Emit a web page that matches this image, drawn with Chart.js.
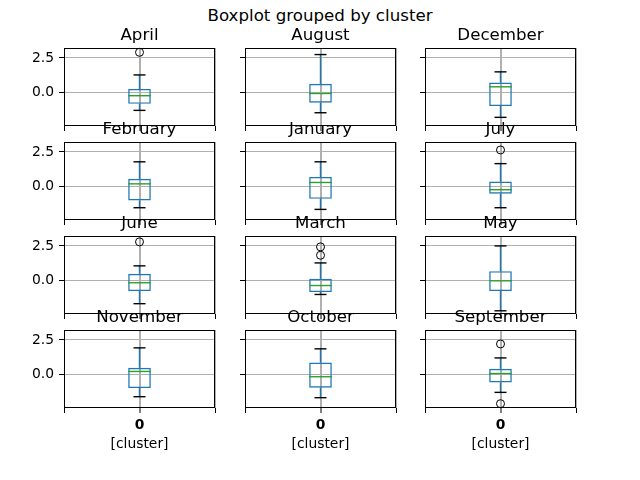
<!DOCTYPE html>
<html>
<head>
<meta charset="utf-8">
<script src="https://cdn.jsdelivr.net/npm/chart.js@4.4.0/dist/chart.umd.min.js"></script>
<style>
html, body { margin: 0; padding: 0; background: #fff; }
body { width: 640px; height: 480px; position: relative; overflow: hidden; font-family: 'DejaVu Sans', sans-serif; }
#sup { position: absolute; left: 0; top: 6px; width: 640px; text-align: center; font-size: 16.67px; line-height: 20px; color: #000; }
canvas { position: absolute; }
</style>
</head>
<body>
<div id="sup"></div>
<script>
// ---------------- data ----------------
const suptitle = 'Boxplot grouped by cluster';
const months = ['April', 'August', 'December', 'February', 'January', 'July',
                'June', 'March', 'May', 'November', 'October', 'September'];
const categories = ['0'];
const xLabel = '[cluster]';
const yTicks = [2.5, 0.0];
const whiskerLow  = [-1.26, -1.43, -1.76, -1.50, -1.62, -1.50, -1.64, -0.98, -2.15, -1.57, -1.64, -1.26];
const q1          = [-0.79, -0.71, -0.95, -0.98, -0.86, -0.50, -0.74, -0.81, -0.74, -0.95, -0.93, -0.55];
const medians     = [-0.21, -0.05,  0.43,  0.21,  0.31, -0.21, -0.14, -0.34,  0.00,  0.24, -0.14,  0.09];
const q3          = [ 0.28,  0.64,  0.73,  0.57,  0.71,  0.38,  0.50,  0.14,  0.69,  0.50,  0.88,  0.43];
const whiskerHigh = [ 1.28,  2.74,  1.50,  1.79,  1.79,  1.66,  1.07,  1.28,  2.50,  1.93,  1.86,  1.21];
const outliers    = [[2.90], [], [], [], [], [2.64], [2.79], [2.43, 1.83], [], [], [], [2.21, -2.07]];

// ---------------- layout / style ----------------
const Y_MIN = -2.38, Y_MAX = 3.21;
const NCOLS = 3;
const AX_LEFT = [64, 245, 425];
const AX_TOP = [48, 142, 236, 330];
const AX_W = 151, AX_H = 78;
const SIDE = 50, TITLE_H = 30;
const FONT = "'DejaVu Sans', sans-serif";
const C_BOX = '#1f77b4', C_MED = '#2ca02c';
// x ticks sit at the category centre and at both axis edges, so the bar ruler
// spacing is half a category: 0.30 of it equals 0.15 of the axis width.
const BOX_FRACTION = 0.30;

document.getElementById('sup').textContent = suptitle;
Chart.defaults.font.family = FONT;
Chart.defaults.color = '#000';

const framePlugin = {
  id: 'frame',
  afterDraw(chart) {
    const { ctx, chartArea: a } = chart;
    ctx.save();
    ctx.strokeStyle = '#000';
    ctx.lineWidth = 1;
    ctx.strokeRect(Math.round(a.left) + 0.5, Math.round(a.top) + 0.5,
                   Math.round(a.right - a.left) - 1, Math.round(a.bottom - a.top) - 1);
    ctx.restore();
  }
};

const nRows = Math.ceil(months.length / NCOLS);
months.forEach((name, k) => {
  const col = k % NCOLS, row = Math.floor(k / NCOLS);
  const isBottom = row === nRows - 1;
  const xAxisH = isBottom ? 50 : 16;
  const cv = document.createElement('canvas');
  cv.width = SIDE + AX_W + SIDE;
  cv.height = TITLE_H + AX_H + xAxisH;
  cv.style.left = (AX_LEFT[col] - SIDE) + 'px';
  cv.style.top = (AX_TOP[row] - TITLE_H) + 'px';
  document.body.appendChild(cv);

  const cat = categories[0];
  const whiskers = [
    { x: cat, y: whiskerLow[k] }, { x: cat, y: q1[k] }, { x: cat, y: null },
    { x: cat, y: q3[k] }, { x: cat, y: whiskerHigh[k] }
  ];

  new Chart(cv, {
    type: 'bar',
    data: {
      labels: categories,
      datasets: [
        { type: 'line', data: outliers[k].map(v => ({ x: cat, y: v })), showLine: false,
          pointStyle: 'circle', pointRadius: 4, pointBorderColor: '#000',
          pointBackgroundColor: 'rgba(0,0,0,0)', pointBorderWidth: 1, clip: false },
        { type: 'line', data: [{ x: cat, y: medians[k] }], showLine: false,
          pointStyle: 'line', pointRadius: 11.3, pointBorderColor: C_MED, pointBorderWidth: 1.4, clip: false },
        { type: 'line', data: [{ x: cat, y: whiskerLow[k] }, { x: cat, y: whiskerHigh[k] }], showLine: false,
          pointStyle: 'line', pointRadius: 6, pointBorderColor: '#000', pointBorderWidth: 1.4, clip: false },
        { type: 'bar', data: [[q1[k], q3[k]]], backgroundColor: 'rgba(0,0,0,0)',
          borderColor: C_BOX, borderWidth: 1.4, borderSkipped: false,
          barPercentage: BOX_FRACTION, categoryPercentage: 1.0, clip: false },
        { type: 'line', data: whiskers, borderColor: C_BOX, borderWidth: 1.4,
          pointRadius: 0, spanGaps: false, tension: 0, clip: false }
      ]
    },
    options: {
      responsive: false,
      animation: false,
      events: [],
      devicePixelRatio: 1,
      layout: { padding: { left: 0, right: SIDE, top: 0, bottom: 0 } },
      plugins: {
        legend: { display: false },
        tooltip: { enabled: false },
        title: {
          display: true, text: name, color: '#000', fullSize: false,
          font: { family: FONT, size: 16.67, weight: 'normal', lineHeight: '20px' },
          padding: { top: 8, bottom: 2 }
        }
      },
      scales: {
        x: {
          type: 'category', offset: true,
          afterBuildTicks: s => {
            const edges = [-0.5, ...categories.map((c, i) => i), categories.length - 0.5];
            s.ticks = edges.map(v => ({ value: v }));
          },
          afterFit: s => { s.height = xAxisH; s.paddingLeft = 0; s.paddingRight = 0; s.paddingTop = 0; s.paddingBottom = 0; },
          ticks: {
            autoSkip: false, maxRotation: 0, padding: 4, color: '#000',
            font: { family: FONT, size: 13.89, weight: 'bold' },
            callback: v => (isBottom && Number.isInteger(v)) ? categories[v] : ''
          },
          grid: {
            offset: false, color: '#b0b0b0', tickColor: '#000', tickLength: 5, tickWidth: 1,
            lineWidth: c => (c.tick && Number.isInteger(c.tick.value)) ? 2 : 1
          },
          border: { display: false },
          title: { display: isBottom, text: xLabel, color: '#000',
                   font: { family: FONT, size: 13.89 }, padding: { top: 0, bottom: 5 } }
        },
        y: {
          type: 'linear', min: Y_MIN, max: Y_MAX,
          afterBuildTicks: s => { s.ticks = yTicks.map(v => ({ value: v })); },
          afterFit: s => { s.width = SIDE; s.paddingTop = 0; s.paddingBottom = 0; s.paddingLeft = 0; s.paddingRight = 0; },
          ticks: {
            padding: 5, color: '#000', font: { family: FONT, size: 13.89 },
            callback: v => col === 0 ? Number(v).toFixed(1) : ''
          },
          grid: { color: '#b0b0b0', lineWidth: 1, tickColor: '#000', tickLength: 5, tickWidth: 1 },
          border: { display: false }
        }
      }
    },
    plugins: [framePlugin]
  });
});
</script>
</body>
</html>
